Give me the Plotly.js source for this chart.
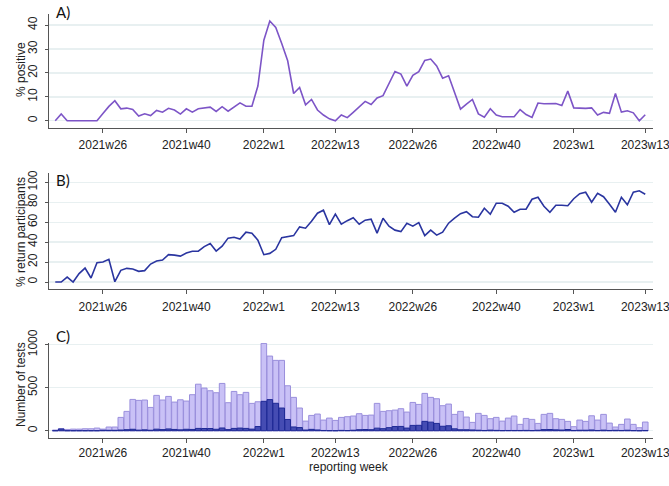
<!DOCTYPE html>
<html><head><meta charset="utf-8">
<script src="https://cdn.plot.ly/plotly-3.0.1.min.js"></script>
<style>html,body{margin:0;padding:0;background:#fff}#chart{width:669px;height:486px}</style>
</head><body><div id="chart"></div><script>
const weeks = [
"2021w18","2021w19","2021w20","2021w21","2021w22","2021w23","2021w24","2021w25","2021w26","2021w27",
"2021w28","2021w29","2021w30","2021w31","2021w32","2021w33","2021w34","2021w35","2021w36","2021w37",
"2021w38","2021w39","2021w40","2021w41","2021w42","2021w43","2021w44","2021w45","2021w46","2021w47",
"2021w48","2021w49","2021w50","2021w51","2021w52",
"2022w1","2022w2","2022w3","2022w4","2022w5","2022w6","2022w7","2022w8","2022w9","2022w10",
"2022w11","2022w12","2022w13","2022w14","2022w15","2022w16","2022w17","2022w18","2022w19","2022w20",
"2022w21","2022w22","2022w23","2022w24","2022w25","2022w26","2022w27","2022w28","2022w29","2022w30",
"2022w31","2022w32","2022w33","2022w34","2022w35","2022w36","2022w37","2022w38","2022w39","2022w40",
"2022w41","2022w42","2022w43","2022w44","2022w45","2022w46","2022w47","2022w48","2022w49","2022w50",
"2022w51","2022w52",
"2023w1","2023w2","2023w3","2023w4","2023w5","2023w6","2023w7","2023w8","2023w9","2023w10",
"2023w11","2023w12","2023w13"];
const tickWeeks = ["2021w26","2021w40","2022w1","2022w13","2022w26","2022w40","2023w1","2023w13"];

const pctPositive = [
0,2.8,0,0,0,0,0,0,3.0,6.0,
8.4,5.0,5.3,4.7,2.0,2.9,2.2,4.3,3.6,5.2,
4.5,2.8,5.0,3.6,5.0,5.3,5.7,3.9,5.9,4.0,
5.9,7.5,6.1,6.1,14.5,33.7,41.7,39.0,32.3,25.1,
11.4,13.9,6.7,8.9,4.5,2.4,0.8,0.0,2.4,1.3,
3.5,5.9,8.1,6.8,9.5,10.5,15.6,20.6,19.5,14.5,
19.0,20.5,25.2,25.8,22.9,17.8,18.8,11.7,4.9,7.0,
8.9,2.9,1.5,5.0,2.4,1.7,1.8,1.7,4.7,2.6,
1.4,7.4,7.1,7.0,7.2,6.4,12.4,5.4,5.2,5.2,
5.4,2.4,3.5,3.1,11.4,3.6,4.2,3.3,0,2.5];

const pctReturn = [
0,0,5,0,8.4,14,4,19.4,20,22.7,
0.3,11.7,13.7,13,10.7,11.4,18,21,22,27.4,
27,26,29,30.8,31,35.5,38.5,31,36,44,
44.8,43,50,49,42,27.4,28.7,32.8,44.5,45.5,
46.5,55.3,54,61,69,72,57.5,68,58,61.5,
64.5,58,62,63,49,64,56,52,50.5,59,
56,59.5,46.5,52,47,50,59,64,68.5,70.5,
65.5,65,74,68,79,79,76,70,73,73,
83,85,76,70,77,77,76.5,83.5,88.5,90,
80,89,85.5,78,70,85,77.5,90,91.5,88];

const testsTotal = [
8,25,15,19,19,23,23,31,19,43,
43,155,225,364,353,357,271,411,357,399,
333,360,345,419,541,496,465,442,550,326,
457,419,446,318,337,1015,868,818,818,523,
388,264,112,178,194,124,147,120,155,163,
171,198,178,182,318,225,233,240,256,217,
329,306,434,388,372,291,310,190,225,159,
97,202,178,140,155,112,147,171,74,143,
132,85,190,202,140,132,109,47,124,109,
174,124,190,89,43,74,136,74,35,101];

const testsPositive = [
0,20,0,0,0,0,0,0,5,5,
5,8,12,17,7,10,6,18,13,21,
15,10,17,15,27,26,26,17,32,13,
27,31,27,19,49,342,362,319,264,131,
44,37,8,16,9,3,1,0,4,2,
6,12,14,12,30,24,36,49,50,31,
62,63,109,100,85,52,58,22,11,11,
9,6,3,7,4,2,3,3,3,4,
2,6,13,14,10,8,14,3,6,6,
9,3,7,3,5,3,6,2,0,3];

const W = 669, H = 486;
const font = {family: "Liberation Sans, Arial, sans-serif", size: 12, color: "#222"};
const axisColor = "#555";
const gridColor = "#e8f0f1";

function xax(anchor, standoff) {
  return {
    type: "category", categoryorder: "array", categoryarray: weeks,
    range: [-1.1, 100.25], tickmode: "array", tickvals: tickWeeks,
    ticks: "outside", ticklen: 4, tickcolor: axisColor, tickwidth: 1,
    showline: true, linecolor: axisColor, linewidth: 1,
    showgrid: false, zeroline: false, anchor: anchor,
    domain: [48.7 / W, 652.7 / W], tickfont: font, automargin: false,
    ticklabelstandoff: standoff
  };
}
function yax(anchor, dom, range, tickvals) {
  return {
    domain: dom, range: range, tickmode: "array", tickvals: tickvals,
    ticks: "outside", ticklen: 3, tickcolor: axisColor, tickwidth: 1,
    showline: true, linecolor: axisColor, linewidth: 1,
    showgrid: true, gridcolor: gridColor, gridwidth: 1.3,
    zeroline: false, anchor: anchor, tickangle: -90, tickfont: font,
    automargin: false, ticklabelstandoff: 3
  };
}
const pd = px => 1 - px / H;

const traces = [
  {x: weeks, y: pctPositive, type: "scatter", mode: "lines", xaxis: "x", yaxis: "y",
   line: {color: "#7d55c7", width: 1.6}},
  {x: weeks, y: pctReturn, type: "scatter", mode: "lines", xaxis: "x2", yaxis: "y2",
   line: {color: "#2a35a0", width: 1.6}},
  {x: weeks, y: testsTotal, type: "bar", xaxis: "x3", yaxis: "y3",
   marker: {color: "#c9c1f6", line: {color: "#9a8fdc", width: 1}}},
  {x: weeks, y: testsPositive, type: "bar", xaxis: "x3", yaxis: "y3",
   marker: {color: "#454cb3", line: {color: "#1f2a96", width: 1}}}
];

const ann = (text, xpx, ypx, opts) => Object.assign({
  text: text, xref: "paper", yref: "paper", x: xpx / W, y: pd(ypx),
  showarrow: false, font: font, xanchor: "center", yanchor: "middle"
}, opts || {});
const panelFont = {family: "Lato, 'Open Sans', sans-serif", size: 15, color: "#111"};

const layout = {
  width: W, height: H, margin: {l: 0, r: 0, t: 0, b: 0},
  paper_bgcolor: "#fff", plot_bgcolor: "#fff", showlegend: false,
  barmode: "overlay", bargap: 0.06,
  xaxis: xax("y", 2), xaxis2: xax("y2", 2), xaxis3: xax("y3", 0),
  yaxis: yax("x", [pd(127.7), pd(14.1)], [-2.9, 44.6], [0, 10, 20, 30, 40]),
  yaxis2: yax("x2", [pd(289.3), pd(173)], [-7.3, 109.3], [0, 20, 40, 60, 80, 100]),
  yaxis3: yax("x3", [pd(437.7), pd(343)], [-81, 1020], [0, 500, 1000]),
  annotations: [
    ann("A)", 54, 12, {xanchor: "left", font: panelFont}),
    ann("B)", 54, 180, {xanchor: "left", font: panelFont}),
    ann("C)", 54, 335.5, {xanchor: "left", font: panelFont}),
    ann("% positive", 21, 70, {textangle: -90}),
    ann("% return participants", 21, 232, {textangle: -90}),
    ann("Number of tests", 21, 385, {textangle: -90}),
    ann("reporting week", 349, 467)
  ]
};

Plotly.newPlot("chart", traces, layout, {displayModeBar: false, staticPlot: true});
</script></body></html>
